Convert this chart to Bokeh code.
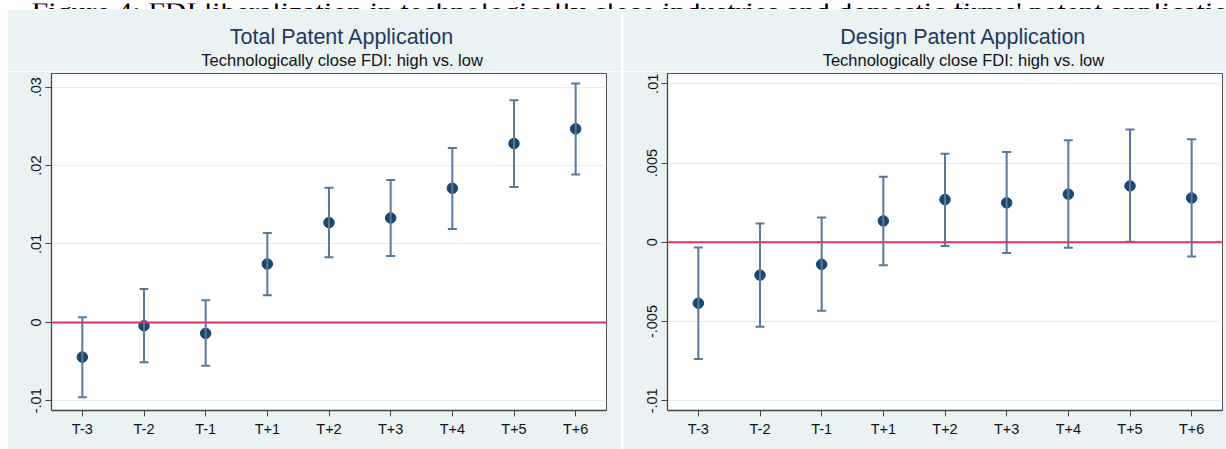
from bokeh.plotting import figure
from bokeh.models import (ColumnDataSource, Whisker, TeeHead, Span, FixedTicker,
                          Range1d, FactorRange, Spacer)
from bokeh.layouts import row, column
from bokeh.embed import file_html
from bokeh.resources import INLINE
from bokeh.core.properties import value

# ---------------- data ----------------
periods = ["T-3", "T-2", "T-1", "T+1", "T+2", "T+3", "T+4", "T+5", "T+6"]

total_coef = [-0.00443, -0.00042, -0.00140, 0.00745, 0.01273, 0.01332, 0.01711, 0.02282, 0.02469]
total_upper = [0.00064, 0.00425, 0.00281, 0.01140, 0.01716, 0.01817, 0.02226, 0.02835, 0.03048]
total_lower = [-0.00954, -0.00507, -0.00553, 0.00345, 0.00830, 0.00847, 0.01192, 0.01728, 0.01886]

design_coef = [-0.00384, -0.00207, -0.00139, 0.00135, 0.00270, 0.00249, 0.00304, 0.00356, 0.00280]
design_upper = [-0.00032, 0.00118, 0.00156, 0.00413, 0.00559, 0.00570, 0.00644, 0.00711, 0.00650]
design_lower = [-0.00736, -0.00532, -0.00432, -0.00144, -0.00023, -0.00068, -0.00034, 0.00004, -0.00090]

total_ticks = [-0.01, 0, 0.01, 0.02, 0.03]
total_tick_labels = ["-.01", "0", ".01", ".02", ".03"]
design_ticks = [-0.01, -0.005, 0, 0.005, 0.01]
design_tick_labels = ["-.01", "-.005", "0", ".005", ".01"]

page_title = "Figure 4: FDI liberalization in technologically close industries and domestic firms' patent application"
titles = ["Total Patent Application", "Design Patent Application"]
subtitle = "Technologically close FDI: high vs. low"

# ---------------- style ----------------
BG = "#EAF2F3"
NAVY = "#1A476F"
BAR = "#58789C"
RED = "#D9395F"
SANS = "Liberation Sans"


def make_panel(title, coef, upper, lower, ticks, labels, y0, y1, width, right_border):
    frame_w = 555
    # header with title & subtitle
    h = figure(width=width, height=62, x_range=Range1d(0, width), y_range=Range1d(0, 62),
               min_border=0, toolbar_location=None, output_backend="svg",
               x_axis_location=None, y_axis_location=None, title_location=None)
    h.grid.visible = False
    h.outline_line_color = None
    h.background_fill_color = BG
    h.border_fill_color = BG
    cx = 44 + frame_w / 2
    h.text(x=[cx], y=[35], text=[title], text_align="center", text_baseline="alphabetic",
           text_font=value(SANS), text_font_size="21.5px", text_color="#1E3A60")
    h.text(x=[cx], y=[12], text=[subtitle], text_align="center", text_baseline="alphabetic",
           text_font=value(SANS), text_font_size="16.5px", text_color="#111111")

    p = figure(width=width, height=378, x_range=FactorRange(factors=periods),
               y_range=Range1d(y0, y1), toolbar_location=None, output_backend="svg",
               title_location=None, min_border_left=44, min_border_right=right_border,
               min_border_top=2, min_border_bottom=39)
    p.background_fill_color = "white"
    p.border_fill_color = BG
    p.outline_line_color = "#555555"
    p.outline_line_width = 1

    p.xgrid.visible = False
    p.yaxis.ticker = FixedTicker(ticks=ticks)
    p.ygrid.ticker = FixedTicker(ticks=ticks)
    p.ygrid.grid_line_color = "#E4EDF0"
    p.ygrid.grid_line_width = 1.2
    p.yaxis.major_label_overrides = {t: l for t, l in zip(ticks, labels)}
    p.yaxis.major_label_orientation = "vertical"

    for ax in (p.xaxis[0], p.yaxis[0]):
        ax.axis_line_color = "#444444"
        ax.axis_line_width = 1.3
        ax.major_tick_line_color = "#444444"
        ax.major_tick_out = 6
        ax.major_tick_in = 0
        ax.minor_tick_line_color = None
        ax.major_label_text_font = SANS
        ax.major_label_text_font_size = "14.5px"
        ax.major_label_text_color = "#111111"
    p.xaxis.major_label_standoff = 4
    p.yaxis.major_label_standoff = 4

    p.add_layout(Span(location=0, dimension="width", line_color=RED, line_width=2))

    src = ColumnDataSource(dict(period=periods, coef=coef, upper=upper, lower=lower))
    w = Whisker(base="period", upper="upper", lower="lower", source=src, dimension="height",
                line_color=BAR, line_width=2,
                upper_head=TeeHead(size=9, line_color=BAR, line_width=2),
                lower_head=TeeHead(size=9, line_color=BAR, line_width=2))
    w.level = "glyph"
    p.add_layout(w)
    p.scatter(x="period", y="coef", source=src, size=10.5, fill_color=NAVY,
              line_color=NAVY)
    return column(h, p, spacing=0)


left = make_panel(titles[0], total_coef, total_upper, total_lower,
                  total_ticks, total_tick_labels, -0.01124, 0.03175, 614, 15)
right = make_panel(titles[1], design_coef, design_upper, design_lower,
                   design_ticks, design_tick_labels, -0.01061, 0.01065, 603, 4)

header = figure(width=1226, height=9, x_range=Range1d(0, 1226), y_range=Range1d(0, 9),
                min_border=0, toolbar_location=None, output_backend="svg",
                x_axis_location=None, y_axis_location=None, title_location=None)
header.grid.visible = False
header.outline_line_color = None
header.background_fill_color = "white"
header.border_fill_color = "white"
header.text(x=[31], y=[1.5], text=[page_title], text_align="left", text_baseline="alphabetic",
            text_font=value("Liberation Serif"), text_font_size="30px", text_color="black")

layout = column(header,
                row(Spacer(width=7, height=440), left, Spacer(width=2, height=440), right,
                    spacing=0),
                spacing=0)

open("out.html", "w").write(file_html(layout, INLINE))
